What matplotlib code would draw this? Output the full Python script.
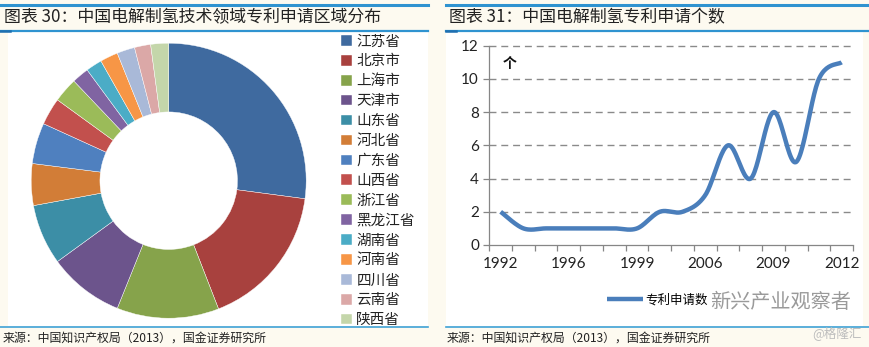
import numpy as np
import matplotlib
matplotlib.use("Agg")
import matplotlib.pyplot as plt
from matplotlib.lines import Line2D

plt.rcParams['font.family'] = ['Noto Sans CJK SC', 'DejaVu Sans']

# ---------------- data ----------------
regions = ["江苏省", "北京市", "上海市", "天津市", "山东省", "河北省", "广东省", "山西省",
           "浙江省", "黑龙江省", "湖南省", "河南省", "四川省", "云南省", "陕西省"]
region_share = [27.1, 17.0, 12.0, 8.9, 7.1, 4.9, 4.8, 3.2, 2.9, 2.0, 1.9, 2.1, 2.1, 1.9, 2.1]
region_colors = ["#3f6a9f", "#a8413e", "#86a34b", "#6c548c", "#3c8ea6", "#d27d37",
                 "#4f80bf", "#c2504d", "#9bbb59", "#8064a2", "#4bacc6", "#f79646",
                 "#a9b9d8", "#dba8a7", "#c4d6aa"]

years = ["1992", "1993", "1995", "1996", "1997", "1998", "1999", "2002",
         "2004", "2006", "2007", "2008", "2009", "2010", "2011", "2012"]
patents = [2, 1, 1, 1, 1, 1, 1, 2, 2, 3, 6, 4, 8, 5, 10, 11]
shown_years = ["1992", "1996", "1999", "2006", "2009", "2012"]

W, H = 870, 347
fig = plt.figure(figsize=(W / 100, H / 100), dpi=100)
fig.patch.set_facecolor("#fdfaf0")

def fx(px):
    return px / W

def fy(py):
    return 1 - py / H

# white panel backgrounds
bg = fig.add_axes([fx(8), fy(326), fx(428 - 8), (326 - 32) / H], zorder=-5)
bg.set_facecolor("white"); bg.set_xticks([]); bg.set_yticks([])
for s in bg.spines.values():
    s.set_visible(False)
bg2 = fig.add_axes([fx(446), fy(326), fx(863 - 446), (326 - 32) / H], zorder=-5)
bg2.set_facecolor("white"); bg2.set_xticks([]); bg2.set_yticks([])
for s in bg2.spines.values():
    s.set_visible(False)

# decorative rules
blue = "#2f93d0"
for (x0, x1) in [(0, 428), (446, 870)]:
    fig.add_artist(Line2D([fx(x0), fx(x1)], [fy(4.5), fy(4.5)], color=blue, lw=2.2))
    fig.add_artist(Line2D([fx(x0), fx(x1)], [fy(30.5), fy(30.5)], color=blue, lw=1.6))
    fig.add_artist(Line2D([fx(x0), fx(x1)], [fy(327), fy(327)], color="#3fa2d6", lw=1.2))
    fig.add_artist(Line2D([fx(x0), fx(x0 + 10)], [fy(30.5), fy(30.5)], color="#1f6fb0", lw=1.8))

# titles
fig.text(fx(4), fy(17), "图表 30：中国电解制氢技术领域专利申请区域分布", fontsize=12.2,
         color="#222222", va="center", ha="left")
fig.text(fx(449), fy(17), "图表 31：中国电解制氢专利申请个数", fontsize=12.2,
         color="#222222", va="center", ha="left")
# sources
fig.text(fx(3), fy(338), "来源：中国知识产权局（2013），国金证券研究所", fontsize=8.6,
         color="#222222", va="center", ha="left")
fig.text(fx(447), fy(338), "来源：中国知识产权局（2013），国金证券研究所", fontsize=8.6,
         color="#222222", va="center", ha="left")

# ---------------- donut ----------------
cx, cy, r = 168.7, 180.7, 137.5
axp = fig.add_axes([fx(cx - r), fy(cy + r), 2 * r / W, 2 * r / H])
wedges, _ = axp.pie(region_share, colors=region_colors, startangle=90, counterclock=False,
                    radius=1.0, wedgeprops=dict(width=0.5, edgecolor="white", linewidth=0.3))
axp.set_xlim(-1, 1); axp.set_ylim(-1, 1)
axp.set_aspect("equal")
axp.axis("off")

leg = fig.legend(wedges, regions, loc="upper left", bbox_to_anchor=(fx(341), fy(34.5)),
                 frameon=False, fontsize=10.5, handlelength=0.75, handleheight=0.75,
                 handletextpad=0.3, labelspacing=0.405, borderaxespad=0, borderpad=0)
for t in leg.get_texts():
    t.set_color("#222222")

# ---------------- line chart ----------------
def smooth(xv, yv, n=24):
    xv = np.asarray(xv, float); yv = np.asarray(yv, float)
    P = np.column_stack([xv, yv])
    out = []
    for i in range(len(P) - 1):
        p0 = P[i - 1] if i > 0 else P[i]
        p1 = P[i]
        p2 = P[i + 1]
        p3 = P[i + 2] if i + 2 < len(P) else P[i + 1]
        c1 = p1 + (p2 - p0) / 6.0
        c2 = p2 - (p3 - p1) / 6.0
        t = np.linspace(0, 1, n, endpoint=(i == len(P) - 2))[:, None]
        seg = ((1 - t) ** 3) * p1 + 3 * ((1 - t) ** 2) * t * c1 + 3 * (1 - t) * t ** 2 * c2 + t ** 3 * p2
        out.append(seg)
    out = np.vstack(out)
    return out[:, 0], out[:, 1]

axl = fig.add_axes([fx(489.3), fy(245), (853 - 489.3) / W, (245 - 45.7) / H])
axl.set_facecolor("none")
xi = np.arange(len(years))
sx, sy = smooth(xi, patents)
line, = axl.plot(sx, sy, color="#4a7ebb", lw=3.2, solid_capstyle="butt", label="专利申请数",
                 clip_on=False, zorder=3)
axl.set_xlim(-0.5, len(years) - 0.5)
axl.set_ylim(0, 12)
axl.set_yticks(np.arange(0, 13, 2))
for yv in np.arange(2, 13, 2):
    axl.axhline(yv, color="#8a8a8a", lw=1.0, ls=(0, (5, 3.5)), zorder=1, clip_on=False)
shown_idx = [years.index(y) for y in shown_years]
axl.set_xticks(shown_idx)
axl.set_xticklabels(shown_years)
axl.set_xticks(np.arange(-0.5, len(years), 1), minor=True)
axl.tick_params(axis="x", which="major", length=0, pad=9, labelsize=11, labelcolor="#222222")
axl.tick_params(axis="x", which="minor", length=4.5, width=0.9, color="#868686", direction="out")
axl.tick_params(axis="y", which="major", length=4.5, width=0.9, color="#868686", pad=3,
                labelsize=11, labelcolor="#222222")
for lab in axl.get_xticklabels() + axl.get_yticklabels():
    lab.set_family(["Lato", "DejaVu Sans"])
for s in ["top", "right"]:
    axl.spines[s].set_visible(False)
for s in ["left", "bottom"]:
    axl.spines[s].set_color("#868686")
    axl.spines[s].set_linewidth(0.9)
axl.text(0.055, 0.91, "个", transform=axl.transAxes, fontsize=10, fontweight="bold",
         color="#111111", ha="center", va="center")

axl.legend(handles=[line], loc="center left", bbox_to_anchor=(fx(607), fy(300)),
           bbox_transform=fig.transFigure, frameon=False, fontsize=9, handlelength=2.9,
           handletextpad=0.15, borderaxespad=0, borderpad=0)

# watermark
fig.text(fx(781), fy(302), "新兴产业观察者", fontsize=14.5, color="#8f8f8f", alpha=0.9,
         ha="center", va="center")
fig.text(fx(862), fy(333), "@格隆汇", fontsize=9, color="#bdbdbd", ha="right", va="center")

fig.savefig("out.png", dpi=100, facecolor=fig.get_facecolor())
